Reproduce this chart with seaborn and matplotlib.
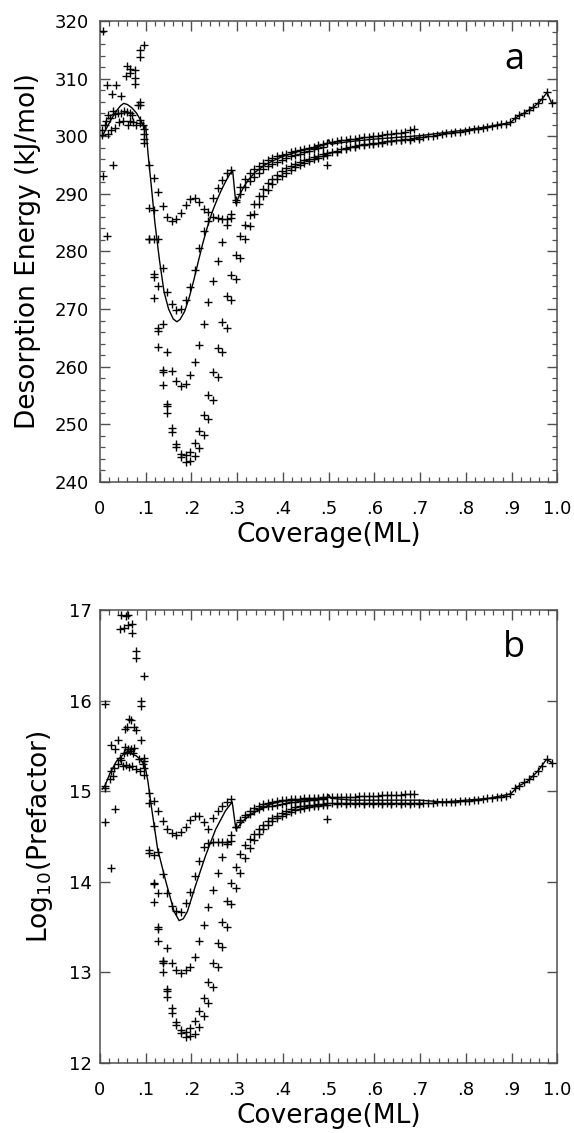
import numpy as np
import pandas as pd
import matplotlib
matplotlib.use("Agg")
import matplotlib.pyplot as plt
import seaborn as sns

sns.set_theme(style="ticks")
plt.rcParams['font.family'] = ['DejaVu Sans']
plt.rcParams['text.color'] = 'black'
plt.rcParams['axes.labelcolor'] = 'black'

# ---- scattered low-coverage points (panel a / panel b read separately) ----
early_cov_a = [.006, .004, .004, .006, .011, .014, .016, .016, .018, .018, .022, .025, .027, .029,
               .029, .032, .032, .036, .040, .042, .047, .047, .050, .053, .056, .058, .058, .062,
               .065, .065, .065, .066, .069, .072, .076, .076, .077, .079, .083, .087, .087, .087,
               .087, .088, .088, .094, .096, .096, .096, .097, .097]
early_e = [318.2, 301.1, 300.2, 293.1, 302.0, 302.6, 308.9, 282.6, 303.7, 300.3, 303.1, 301.0, 307.3, 295.0,
           304.3, 303.8, 301.4, 308.9, 304.0, 302.5, 306.9, 304.0, 302.6, 304.4, 310.5, 312.1, 304.2, 302.0,
           311.0, 304.0, 302.6, 311.7, 303.6, 302.5, 311.5, 310.1, 309.1, 302.0, 305.4, 306.0, 305.5, 315.0,
           313.7, 302.8, 302.3, 302.0, 315.9, 301.2, 300.4, 299.6, 298.8]

early_cov_b = [.011, .012, .023, .032, .010, .010, .021, .028, .024, .031, .040, .043, .046, .024,
               .032, .040, .045, .056, .062, .044, .053, .062, .070, .069, .078, .078, .097, .090,
               .090, .064, .068, .060, .075, .078, .055, .090, .055, .061, .068, .075, .052, .058,
               .066, .073, .050, .057, .064, .070, .079, .087, .086, .093, .097, .097, .096, .097]
early_logA = [15.96, 14.66, 14.15, 14.80, 15.03, 15.06, 15.13, 15.17, 15.22, 15.26, 15.30, 15.37, 15.34, 15.51,
              15.47, 15.56, 16.95, 16.93, 16.95, 16.79, 16.80, 16.83, 16.84, 16.75, 16.55, 16.47, 16.27, 16.00,
              15.94, 15.80, 15.78, 15.71, 15.71, 15.67, 15.69, 15.56, 15.49, 15.47, 15.46, 15.48, 15.42, 15.43,
              15.44, 15.42, 15.28, 15.29, 15.27, 15.28, 15.24, 15.22, 15.35, 15.30, 15.37, 15.33, 15.25, 15.18]

# ---- runs: coverage, desorption energy (kJ/mol), log10 prefactor ----
run_uh_cov = [.107, .117, .127, .137, .147, .157, .167, .177, .187, .197, .207, .217, .227, .237,
              .247, .257, .267, .277, .287]
run_uh_e = [295.0, 292.7, 290.4, 287.9, 286.0, 285.3, 285.6, 286.6, 288.1, 289.1, 289.3, 288.6, 287.4, 286.9,
            289.2, 291.1, 292.4, 293.6, 294.1]
run_uh_a = [14.98, 14.89, 14.78, 14.67, 14.58, 14.54, 14.52, 14.55, 14.60, 14.68, 14.72, 14.72, 14.66, 14.58,
            14.70, 14.78, 14.84, 14.88, 14.91]

run_fl_cov = [.107, .117, .127, .137, .147, .157, .167, .177, .187, .197, .207, .217, .227, .237,
              .247, .257, .267, .277, .287, .297, .307, .317, .327, .337, .347, .357, .367, .377,
              .387, .397, .407, .417, .427, .437, .447, .457, .467, .477, .487, .497, .507, .517,
              .527, .537, .547, .557, .567, .577, .587, .597, .607, .617, .627, .637, .647, .657,
              .667, .677, .687]
run_fl_e = [287.6, 287.2, 282.1, 277.2, 273.0, 270.8, 269.8, 270.0, 271.5, 273.9, 276.8, 280.6, 283.5, 285.3,
            285.9, 285.8, 285.7, 285.7, 285.8, 289.0, 291.2, 292.6, 293.6, 294.3, 294.9, 295.4, 295.8, 296.2,
            296.5, 296.8, 297.0, 297.2, 297.4, 297.6, 297.8, 298.0, 298.2, 298.4, 298.6, 298.8, 299.0, 299.2,
            299.3, 299.4, 299.5, 299.6, 299.7, 299.8, 299.9, 300.0, 300.1, 300.2, 300.3, 300.4, 300.5, 300.6,
            300.8, 301.0, 301.2]
run_fl_a = [14.87, 14.62, 14.33, 14.08, 13.87, 13.73, 13.68, 13.67, 13.76, 13.89, 14.06, 14.23, 14.38, 14.43,
            14.44, 14.44, 14.44, 14.44, 14.45, 14.60, 14.68, 14.74, 14.78, 14.81, 14.84, 14.86, 14.87, 14.88,
            14.89, 14.90, 14.90, 14.91, 14.91, 14.91, 14.92, 14.92, 14.92, 14.92, 14.93, 14.93, 14.93, 14.93,
            14.94, 14.94, 14.94, 14.94, 14.95, 14.95, 14.95, 14.95, 14.95, 14.96, 14.96, 14.96, 14.96, 14.96,
            14.97, 14.97, 14.97]

run_c_cov = [.107, .117, .127, .137, .147, .157, .167, .177, .187, .197, .207, .217, .227, .237,
             .247, .257, .267, .277, .287, .297, .307, .317, .327, .337, .347, .357, .367, .377,
             .387, .397, .407, .417, .427, .437, .447, .457, .467, .477, .487, .497]
run_c_e = [282.1, 282.1, 274.0, 267.4, 262.5, 259.2, 257.6, 256.7, 257.0, 258.5, 260.8, 263.7, 267.5, 271.2,
           274.8, 278.4, 281.7, 284.6, 286.5, 288.5, 290.0, 291.2, 292.3, 293.0, 293.7, 294.3, 294.8, 295.2,
           295.6, 295.9, 296.2, 296.5, 296.8, 297.0, 297.3, 297.5, 297.7, 297.9, 298.1, 295.0]
run_c_a = [14.32, 14.29, 13.87, 13.12, 13.27, 13.10, 13.02, 12.99, 13.02, 13.06, 13.17, 13.34, 13.52, 13.72,
           13.91, 14.10, 14.27, 14.42, 14.52, 14.60, 14.66, 14.71, 14.75, 14.78, 14.80, 14.82, 14.83, 14.84,
           14.85, 14.86, 14.87, 14.88, 14.88, 14.89, 14.89, 14.90, 14.90, 14.91, 14.91, 14.69]

run_d1_cov = [.117, .127, .137, .147, .157, .167, .177, .187, .197, .207, .217, .227, .237, .247,
              .257, .267, .277, .287, .297, .307, .317, .327, .337, .347, .357, .367, .377, .387,
              .397, .407, .417, .427, .437, .447, .457, .467, .477, .487, .497, .507, .517, .527,
              .537, .547, .557, .567, .577, .587, .597, .607, .617, .627, .637, .647, .657, .667,
              .677, .687, .697, .707, .717, .727, .737, .747, .757, .767, .777, .787, .797, .807,
              .817, .827, .837, .847, .857, .867, .877, .887, .897, .907, .917, .927, .937, .947,
              .957, .967, .977, .987]
run_d1_e = [276.1, 266.7, 259.4, 253.5, 249.4, 246.6, 244.9, 244.6, 245.2, 246.8, 248.8, 251.7, 255.1, 259.1,
            263.3, 267.8, 272.3, 275.9, 279.4, 282.6, 284.6, 286.4, 288.2, 289.6, 290.8, 291.8, 292.6, 293.3,
            293.9, 294.4, 294.8, 295.2, 295.5, 295.8, 296.1, 296.4, 296.6, 296.9, 297.1, 297.3, 297.5, 297.7,
            297.9, 298.1, 298.3, 298.4, 298.6, 298.7, 298.8, 298.9, 299.0, 299.1, 299.2, 299.3, 299.4, 299.5,
            299.6, 299.7, 299.8, 299.9, 300.0, 300.1, 300.2, 300.4, 300.5, 300.6, 300.7, 300.8, 300.9, 301.0,
            301.2, 301.3, 301.5, 301.6, 301.8, 301.9, 302.1, 302.2, 302.4, 303.1, 303.6, 304.0, 304.5, 305.0,
            305.7, 306.5, 307.6, 305.8]
run_d1_a = [13.99, 13.50, 13.12, 12.81, 12.60, 12.45, 12.36, 12.34, 12.38, 12.46, 12.57, 12.72, 12.89, 13.10,
            13.32, 13.55, 13.79, 13.98, 14.16, 14.30, 14.40, 14.47, 14.53, 14.58, 14.63, 14.67, 14.70, 14.73,
            14.76, 14.78, 14.80, 14.82, 14.83, 14.84, 14.85, 14.85, 14.86, 14.86, 14.87, 14.87, 14.87, 14.87,
            14.87, 14.87, 14.87, 14.87, 14.87, 14.87, 14.87, 14.87, 14.87, 14.87, 14.87, 14.87, 14.87, 14.87,
            14.87, 14.87, 14.87, 14.87, 14.87, 14.87, 14.88, 14.88, 14.88, 14.88, 14.88, 14.89, 14.89, 14.89,
            14.90, 14.90, 14.91, 14.92, 14.92, 14.93, 14.94, 14.95, 14.97, 15.03, 15.06, 15.10, 15.13, 15.17,
            15.22, 15.28, 15.35, 15.31]

run_d2_cov = [.117, .127, .137, .147, .157, .167, .177, .187, .197, .207, .217, .227, .237, .247,
              .257, .267, .277, .287, .297, .307, .317, .327, .337, .347, .357, .367, .377, .387,
              .397, .407, .417, .427, .437, .447, .457, .467, .477, .487, .497, .517, .537, .557,
              .577, .597, .617, .637, .657, .677, .697]
run_d2_e = [275.6, 266.2, 259.1, 253.2, 248.6, 246.1, 244.4, 243.4, 243.6, 244.5, 245.9, 248.1, 250.9, 254.2,
            258.3, 262.6, 266.8, 271.5, 275.2, 278.8, 282.2, 284.5, 286.5, 288.3, 289.6, 290.7, 291.7, 292.5,
            293.1, 293.7, 294.2, 294.6, 295.0, 295.4, 295.7, 296.0, 296.3, 296.6, 296.8, 297.3, 297.7, 298.1,
            298.4, 298.7, 298.9, 299.1, 299.3, 299.4, 299.5]
run_d2_a = [13.97, 13.48, 13.10, 12.79, 12.55, 12.42, 12.33, 12.28, 12.29, 12.32, 12.40, 12.52, 12.66, 12.84,
            13.06, 13.28, 13.50, 13.75, 13.93, 14.10, 14.26, 14.37, 14.46, 14.53, 14.58, 14.63, 14.67, 14.70,
            14.73, 14.75, 14.77, 14.79, 14.80, 14.81, 14.82, 14.83, 14.84, 14.85, 14.85, 14.86, 14.86, 14.86,
            14.86, 14.86, 14.86, 14.86, 14.86, 14.86, 14.86]

run_d3_cov = [.107, .117, .127, .137, .147]
run_d3_e = [282.1, 271.9, 263.5, 256.8, 251.9]
run_d3_a = [14.35, 13.78, 13.34, 13.00, 12.73]

# ---- fitted curves ----
fit_cov_a = [.005, .015, .025, .035, .045, .052, .060, .070, .080, .090, .096, .100, .105, .112,
             .120, .130, .140, .150, .160, .168, .175, .185, .195, .205, .215, .225, .235, .245,
             .255, .265, .275, .285, .290, .297, .305, .315, .325, .340, .360, .380, .400, .420,
             .440, .460, .480, .495, .500, .505, .520, .550, .600, .650, .700, .750, .800, .850,
             .898, .907, .917, .927, .937, .947, .957, .967, .977, .987]
fit_e = [300.0, 301.5, 303.0, 304.3, 305.3, 305.7, 305.5, 304.9, 304.0, 302.6, 301.6, 301.8, 297.0, 291.5,
         285.0, 278.5, 273.0, 270.0, 268.3, 267.8, 268.2, 269.6, 272.0, 275.0, 278.3, 281.5, 284.3, 286.8,
         288.8, 290.6, 292.2, 293.6, 294.0, 288.3, 289.8, 291.3, 292.5, 293.8, 295.0, 295.8, 296.5, 297.0,
         297.5, 297.9, 298.3, 298.6, 299.4, 298.6, 298.8, 299.1, 299.5, 299.8, 300.1, 300.6, 301.1, 301.7,
         302.4, 303.1, 303.6, 304.0, 304.5, 305.0, 305.7, 306.5, 307.6, 305.8]

fit_cov_b = [.005, .011, .022, .036, .050, .061, .070, .079, .088, .094, .097, .105, .112, .126,
             .144, .162, .173, .182, .191, .209, .231, .253, .274, .289, .297, .315, .332, .350,
             .375, .400, .433, .470, .495, .500, .505, .550, .600, .700, .750, .800, .850, .898,
             .913, .935, .957, .976, .989]
fit_logA = [15.02, 15.06, 15.20, 15.33, 15.40, 15.42, 15.41, 15.39, 15.35, 15.31, 15.32, 15.10, 14.84, 14.36,
            14.00, 13.67, 13.57, 13.59, 13.67, 13.96, 14.29, 14.58, 14.78, 14.88, 14.58, 14.68, 14.75, 14.80,
            14.86, 14.89, 14.90, 14.91, 14.92, 14.96, 14.92, 14.90, 14.90, 14.90, 14.88, 14.90, 14.92, 14.97,
            15.05, 15.11, 15.22, 15.35, 15.31]

xtick_vals = [0, .1, .2, .3, .4, .5, .6, .7, .8, .9, 1.0]
xtick_text = ["0", ".1", ".2", ".3", ".4", ".5", ".6", ".7", ".8", ".9", "1.0"]

runs = [
    (run_uh_cov, run_uh_e, run_uh_a),
    (run_fl_cov, run_fl_e, run_fl_a),
    (run_c_cov, run_c_e, run_c_a),
    (run_d1_cov, run_d1_e, run_d1_a),
    (run_d2_cov, run_d2_e, run_d2_a),
    (run_d3_cov, run_d3_e, run_d3_a),
]

pts_a = pd.concat([pd.DataFrame({"cov": early_cov_a, "val": early_e})] +
                  [pd.DataFrame({"cov": c, "val": e}) for c, e, _ in runs], ignore_index=True)
pts_b = pd.concat([pd.DataFrame({"cov": early_cov_b, "val": early_logA})] +
                  [pd.DataFrame({"cov": c, "val": a}) for c, _, a in runs], ignore_index=True)
line_a = pd.DataFrame({"cov": fit_cov_a, "val": fit_e})
line_b = pd.DataFrame({"cov": fit_cov_b, "val": fit_logA})

fig = plt.figure(figsize=(5.74, 11.33), dpi=100)
ax1 = fig.add_axes([0.1742, 0.5746, 0.797, 0.4069])
ax2 = fig.add_axes([0.1742, 0.0620, 0.797, 0.3996])

spine_col = "#505050"


def draw(ax, pts, line, ylim, yticks, yminor, ylabel, tag, ypad):
    sns.scatterplot(data=pts, x="cov", y="val", marker="+", color="black", s=32,
                    linewidth=1.0, ax=ax, legend=False, zorder=3)
    sns.lineplot(data=line, x="cov", y="val", color="black", linewidth=1.0,
                 sort=False, estimator=None, ax=ax, zorder=2)
    ax.set_xlim(0, 1.0)
    ax.set_ylim(*ylim)
    ax.set_xticks(xtick_vals)
    ax.set_xticklabels(xtick_text)
    ax.set_xticks(np.linspace(0, 1, 51), minor=True)
    ax.set_yticks(yticks)
    if yminor is not None:
        ax.set_yticks(yminor, minor=True)
    ax.tick_params(which="both", direction="in", top=True, right=True, colors=spine_col,
                   labelcolor="black", labelsize=13)
    ax.tick_params(which="major", length=7, width=1)
    ax.tick_params(which="minor", length=3.5, width=0.9)
    ax.tick_params(axis="x", pad=13)
    ax.tick_params(axis="y", pad=ypad)
    for sp in ax.spines.values():
        sp.set_color(spine_col)
        sp.set_linewidth(1.1)
    ax.set_xlabel("Coverage(ML)", fontsize=19, labelpad=3, color="black")
    ax.set_ylabel(ylabel, fontsize=19, labelpad=10, color="black")
    ax.text(0.905, 0.915, tag, transform=ax.transAxes, fontsize=26, color="black",
            family=["Open Sans", "DejaVu Sans"], ha="center", va="center")


draw(ax1, pts_a, line_a, (240, 320), np.arange(240, 321, 10), np.arange(240, 321, 2),
     "Desorption Energy (kJ/mol)", "a", 8)
draw(ax2, pts_b, line_b, (12, 17), np.arange(12, 18, 1), None,
     "Log$_{10}$(Prefactor)", "b", 6)

fig.savefig("out.png", dpi=100)
